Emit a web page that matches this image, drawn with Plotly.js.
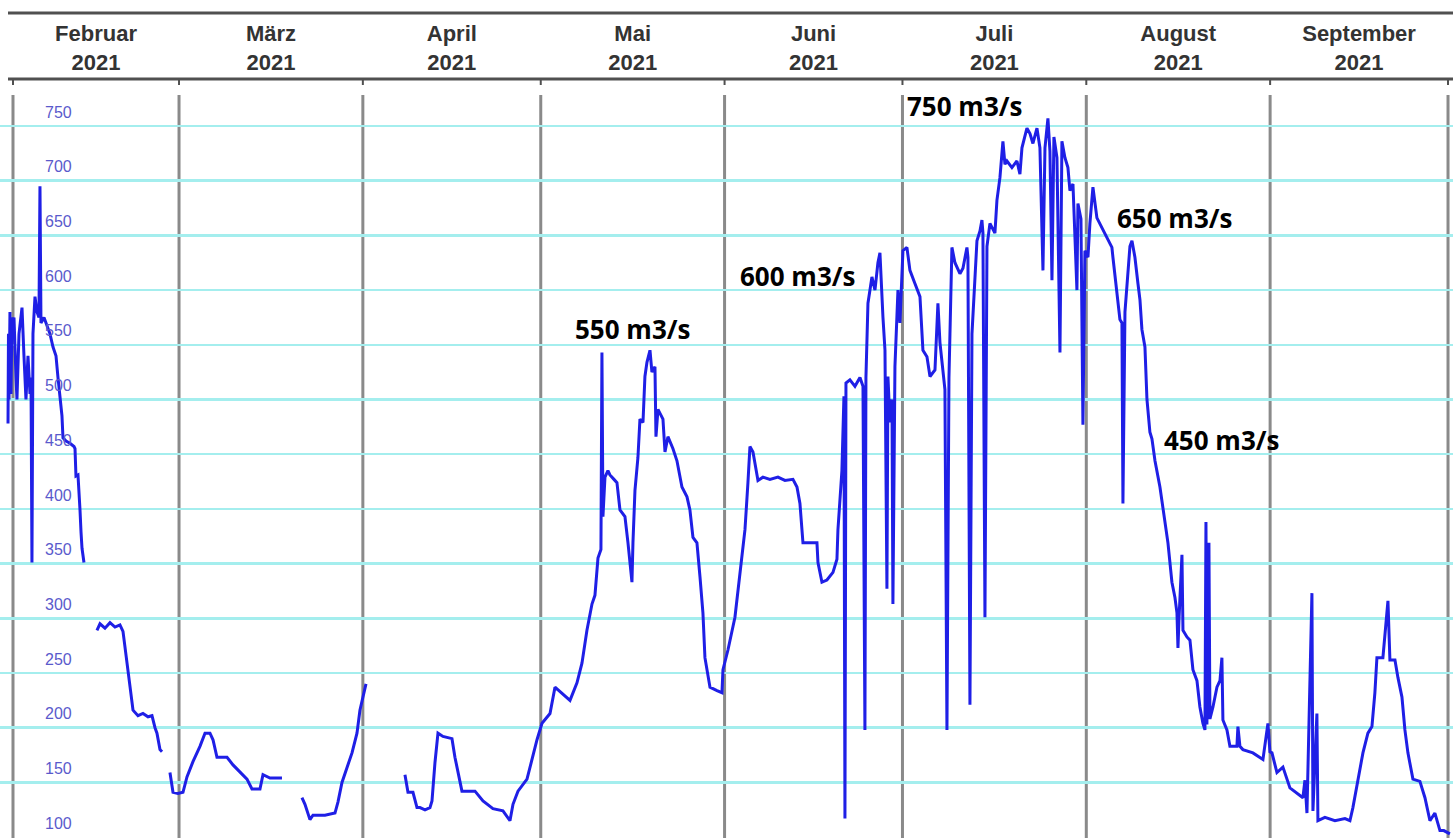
<!DOCTYPE html>
<html>
<head>
<meta charset="utf-8">
<script src="https://cdn.plot.ly/plotly-3.0.1.min.js"></script>
<style>html,body{margin:0;padding:0;background:#fff;}#chart{width:1453px;height:838px;}</style>
</head>
<body>
<div id="chart"></div>
<script>
// Abfluss (m3/s) – time in days since 2021-02-01 00:00, null = gap in record
const days = [
 -0.84,-0.76,-0.67,-0.51,-0.34,-0.17,0,0.17,0.51,0.67,1.01,1.35,1.52,1.85,2.19,2.53,2.87,3.04,3.20,3.37,3.71,4.05,4.38,4.55,4.72,5.23,5.73,6.24,6.75,7.25,7.59,7.93,8.26,8.43,8.94,9.61,10.29,10.46,10.62,10.96,11.13,11.30,11.47,11.64,11.97,
 13.0,
 14.16,14.67,15.51,16.36,17.20,18.04,18.55,18.89,19.39,19.73,20.24,21.08,21.92,22.77,23.44,23.95,24.28,24.79,25.13,
 25.8,
 26.47,26.98,27.82,28.67,29.34,30.35,31.53,32.38,33.22,33.73,34.40,36.09,37.10,38.28,39.46,40.30,40.98,41.65,42.16,43.34,44.35,45.36,
 47.0,
 48.73,49.24,50.08,50.59,51.26,52.61,54.30,54.80,55.48,56.32,57.17,58.01,58.51,59.53,
 62.0,
 66.10,66.61,67.45,68.13,68.63,69.48,70.32,70.66,71.16,71.67,72.51,73.35,74.03,74.53,75.71,76.73,77.91,79.26,80.94,82.63,83.81,84.32,85.16,86.68,87.52,88.37,89.21,90.56,91.40,92.75,93.93,95.11,95.95,96.79,97.64,98.14,98.65,99.15,99.32,99.49,99.83,100.33,100.67,101.35,101.85,102.36,103.20,103.71,104.38,104.55,104.89,105.39,105.73,106.24,106.57,106.91,107.42,107.75,108.26,108.43,108.77,109.61,109.95,110.45,111.30,111.97,112.81,113.66,114.16,114.67,115.34,115.85,116.35,116.69,117.54,118.72,119.56,119.73,120.57,121.75,122.59,123.44,123.94,124.28,124.79,125.63,126.47,127.65,129.00,130.18,131.53,132.21,132.71,133.22,134.40,135.58,135.75,136.42,137.26,138.28,138.95,139.12,139.79,139.96,140.13,140.30,140.47,141.14,141.99,142.83,143.34,143.67,143.84,144.18,144.85,145.36,145.86,146.20,146.54,146.71,147.05,147.38,147.55,147.89,148.23,148.39,148.73,149.24,149.57,150.08,150.75,151.26,152.10,152.95,153.45,154.13,154.64,155.48,155.98,156.32,157.16,157.50,157.84,158.34,158.85,159.69,160.20,160.87,161.04,161.38,161.72,162.22,162.56,163.07,163.40,163.57,163.91,164.25,164.75,165.59,165.93,166.44,166.94,167.28,167.62,168.46,169.30,169.81,170.15,170.99,171.50,172.00,172.68,173.18,173.69,174.03,174.53,174.87,175.21,175.54,176.05,176.56,176.89,177.40,177.90,178.24,178.75,179.42,179.59,180.10,180.43,180.77,181.28,181.61,182.12,182.79,183.64,184.48,185.32,185.49,186.17,186.67,187.01,187.18,187.52,187.85,188.36,188.70,189.20,189.71,190.05,190.38,190.89,191.23,191.73,192.07,192.58,193.42,194.26,194.77,195.44,195.95,196.29,196.46,196.63,197.13,197.30,197.97,198.48,198.98,199.66,200.16,200.67,201.01,201.18,201.34,201.68,201.85,202.36,203.03,203.54,203.87,204.04,204.72,205.22,206.40,206.57,206.91,207.41,209.10,210.79,211.63,211.97,212.31,213.15,214.16,215.34,216.52,217.53,217.87,218.21,219.05,219.22,219.89,220.06,221.24,222.93,224.62,225.46,225.96,226.81,227.65,228.49,229.17,229.67,230.01,231.02,231.87,232.20,233.05,233.55,234.23,234.73,235.24,236.08,237.26,238.11,238.95,239.79,240.64,241.29,242.32
];
const flow = [
 478,560,500,580,505,575,560,575,520,500,560,575,584,540,500,540,505,520,351,560,594,580,575,695,570,575,568,560,548,540,520,500,485,465,462,460,457,455,430,431,419,399,379,364,351,
 null,
 289,295,291,296,292,294,288,273,252,237,216,211,213,210,211,200,195,180,178,
 null,
 159,141,140,141,155,169,183,195,195,189,173,173,166,159,153,144,144,144,157,154,154,154,
 null,
 136,130,116,120,120,120,122,132,150,163,177,195,216,240,
 null,
 157,141,141,127,127,125,127,133,168,195,192,191,190,173,142,142,142,133,126,124,115,130,142,153,171,189,204,213,237,231,225,241,259,289,313,321,355,363,543,393,429,435,431,427,424,399,393,369,333,369,417,447,482,479,521,534,545,525,530,466,491,482,452,466,455,444,420,411,399,374,369,338,305,264,237,234,232,253,271,301,342,381,424,457,452,426,429,427,429,426,427,420,405,369,369,369,351,333,335,342,354,381,435,466,503,117,515,518,512,520,512,198,520,588,612,600,625,634,585,575,545,327,521,479,500,313,530,600,570,636,639,618,606,594,545,539,521,527,588,552,509,198,520,639,625,615,620,639,630,221,560,606,645,654,664,652,301,640,661,652,682,703,736,715,718,712,718,706,730,748,743,734,748,730,618,730,757,727,609,740,721,543,736,721,712,691,697,600,679,665,477,636,630,661,694,666,657,648,639,630,600,573,570,405,580,606,640,645,630,606,591,564,548,500,470,464,444,420,390,369,333,319,305,273,299,358,289,283,280,253,243,219,204,198,388,203,369,208,219,237,243,264,207,198,183,183,201,183,180,177,171,204,178,177,159,164,145,140,136,152,122,323,124,213,115,118,115,117,115,127,153,177,195,201,232,264,264,316,262,262,246,228,198,177,153,151,136,115,122,106,106,103
];

const monthStarts = ['2021-02-01','2021-03-01','2021-04-01','2021-05-01','2021-06-01','2021-07-01','2021-08-01','2021-09-01','2021-10-01'];
const monthNames = ['Januar','Februar','März','April','Mai','Juni','Juli','August','September','Oktober','November','Dezember'];
const yTicks = [100,150,200,250,300,350,400,450,500,550,600,650,700,750];

const noteTexts = ['550 m3/s','600 m3/s','750 m3/s','650 m3/s','450 m3/s'];
const noteDays = [104.55,132.38,160.54,195.95,203.87];
const noteValues = [564,613,768,666,463];

const T0 = Date.UTC(2021,1,1);
function dayToDate(d){
  const dt = new Date(T0 + d*86400000);
  return dt.toISOString().slice(0,16).replace('T',' ');
}
const xDates = days.map(dayToDate);

const trace = {
  type:'scatter', mode:'lines', x:xDates, y:flow,
  connectgaps:false,
  line:{color:'#1f1fe6', width:3},
  hoverinfo:'x+y'
};

const hdrTop = (838-13)/743, hdrBot = (838-79)/743, hdrTick = (838-85)/743;
const shapes = [
  {type:'line', xref:'paper', yref:'paper', x0:8/1453, x1:1, y0:hdrTop, y1:hdrTop, line:{color:'#505050', width:3}},
  {type:'line', xref:'paper', yref:'paper', x0:8/1453, x1:1, y0:hdrBot, y1:hdrBot, line:{color:'#505050', width:3}}
];
monthStarts.forEach(m=>{
  shapes.push({type:'line', xref:'x', yref:'paper', x0:m, x1:m, y0:hdrBot, y1:hdrTick, line:{color:'#505050', width:2}});
  shapes.push({type:'line', xref:'x', yref:'paper', layer:'below', x0:m, x1:m, y0:0, y1:1, line:{color:'#8a8a8a', width:3}});
});

const annotations = noteTexts.map((t,i)=>({
  x: dayToDate(noteDays[i]), y: noteValues[i], xref:'x', yref:'y',
  text:'<b>'+t+'</b>', showarrow:false,
  font:{family:'Open Sans, Noto Sans, sans-serif', size:26, color:'#000'},
  xanchor:'center', yanchor:'middle'
}));

const layout = {
  width:1453, height:838,
  margin:{l:0, r:0, t:95, b:0, pad:0},
  paper_bgcolor:'#fff', plot_bgcolor:'#fff',
  showlegend:false,
  xaxis:{
    type:'date', range:[dayToDate(-2.19), dayToDate(242.84)],
    side:'top', tick0:monthStarts[0], dtick:'M1',
    ticklabelmode:'period', tickformat:'%B<br>%Y',
    ticks:'', showline:false, zeroline:false,
    showgrid:false,
    tickfont:{family:'Liberation Sans, Arial, sans-serif', size:22, color:'#333', weight:'bold'},
    ticklabelstandoff:20
  },
  yaxis:{
    range:[99.2, 778.3], tickvals:yTicks,
    showgrid:true, gridcolor:'#a4eeee', gridwidth:2.5,
    zeroline:false, showline:false, ticks:'',
    ticklabelposition:'inside', ticklabelshift:-14, ticklabelstandoff:42,
    tickfont:{family:'Liberation Sans, Arial, sans-serif', size:16, color:'#5a5acc'}
  },
  shapes:shapes,
  annotations:annotations
};

const config = {
  staticPlot:true, displayModeBar:false, locale:'de',
  locales:{de:{dictionary:{}, format:{
    days:['Sonntag','Montag','Dienstag','Mittwoch','Donnerstag','Freitag','Samstag'],
    shortDays:['So','Mo','Di','Mi','Do','Fr','Sa'],
    months:monthNames,
    shortMonths:['Jan','Feb','Mär','Apr','Mai','Jun','Jul','Aug','Sep','Okt','Nov','Dez'],
    date:'%d.%m.%Y', decimal:',', thousands:'.'
  }}}
};

Plotly.newPlot('chart',[trace],layout,config);
</script>
</body>
</html>
